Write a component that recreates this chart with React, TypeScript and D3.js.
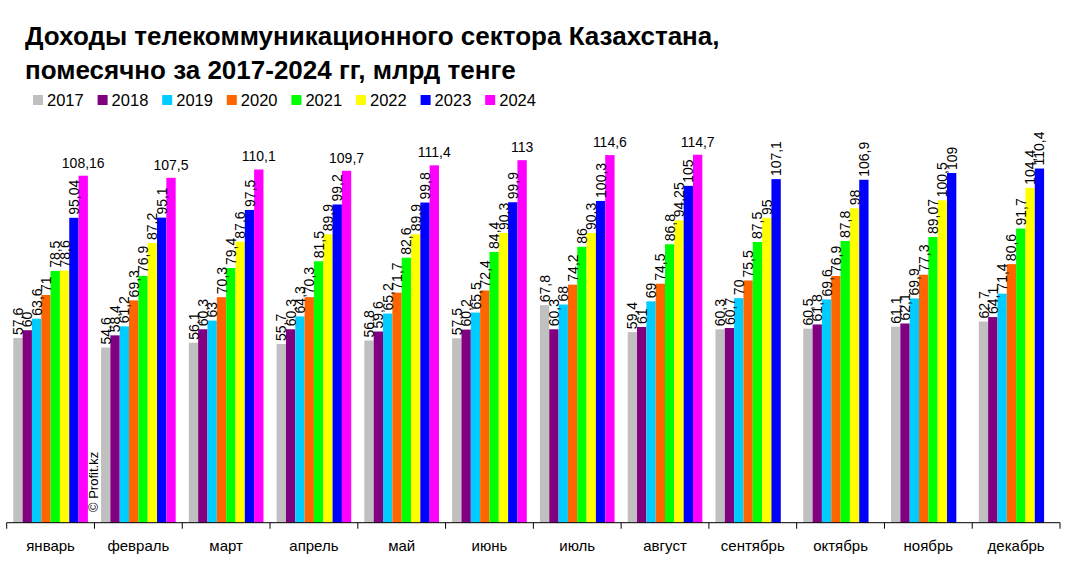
import React from "react";
import * as d3 from "d3";

const months = ["январь", "февраль", "март", "апрель", "май", "июнь", "июль", "август", "сентябрь", "октябрь", "ноябрь", "декабрь"];
const years = ["2017", "2018", "2019", "2020", "2021", "2022", "2023", "2024"];
const colors = ["#C0C0C0", "#800080", "#00CCFF", "#FF6600", "#00FF00", "#FFFF00", "#0000FF", "#FF00FF"];

const s2017 = [57.6, 54.6, 56.1, 55.7, 56.8, 57.5, 67.8, 59.4, 60.3, 60.5, 61.1, 62.7];
const s2018 = [60, 58.4, 60.3, 60.3, 59.6, 60.2, 60.3, 61, 60.7, 61.8, 62.1, 64.1];
const s2019 = [63.6, 61.2, 63, 64.3, 65.2, 65.5, 68, 69, 70, 69.6, 69.9, 71.4];
const s2020 = [71, 69.3, 70.3, 70.3, 71.7, 72.4, 74.2, 74.5, 75.5, 76.9, 77.3, 80.6];
const s2021 = [78.5, 76.9, 79.4, 81.5, 82.6, 84.4, 86, 86.8, 87.5, 87.8, 89.07, 91.7];
const s2022 = [78.6, 87.2, 87.6, 89.9, 89.9, 90.3, 90.3, 94.25, 95, 98, 100.5, 104.4];
const s2023 = [95.04, 95.1, 97.5, 99.2, 99.8, 99.9, 100.3, 105, 107.1, 106.9, 109, 110.4];
const s2024: (number | null)[] = [108.16, 107.5, 110.1, 109.7, 111.4, 113, 114.6, 114.7, null, null, null, null];

const series = [s2017, s2018, s2019, s2020, s2021, s2022, s2023, s2024];

const titleLines = ["Доходы телекоммуникационного сектора Казахстана,", "помесячно за 2017-2024 гг, млрд тенге"];
const watermark = "© Profit.kz";

const W = 1065;
const H = 566;
const FONT = "Arial, 'Liberation Sans', sans-serif";

const fmt = (v: number) => String(v).replace(".", ",");

export default function App() {
  const baseY = 522.7;
  const x = d3.scaleBand<string>().domain(months).range([6.7, 1060]).paddingInner(0).paddingOuter(0);
  const xi = d3.scaleBand<string>().domain(years).range([0, x.bandwidth()]).paddingInner(0).paddingOuter(0.705);
  const y = d3.scaleLinear().domain([0, 120]).range([baseY, baseY - 120 * 3.208]);

  const boundaries = d3.range(months.length + 1).map((i) => 6.7 + i * x.step());

  return (
    <svg width={W} height={H} style={{ position: "absolute", left: 0, top: 0, background: "#fff" }} fontFamily={FONT}>
      <rect x={0} y={0} width={W} height={H} fill="#fff" />
      {titleLines.map((t, i) => (
        <text key={i} x={25} y={45 + i * 34} fontSize={26} fontWeight="bold" fill="#000">
          {t}
        </text>
      ))}
      {years.map((yr, i) => (
        <g key={yr} transform={`translate(${33 + i * 64.6},0)`}>
          <rect x={0} y={95} width={10} height={10} fill={colors[i]} />
          <text x={14} y={106} fontSize={16.5} fill="#000">
            {yr}
          </text>
        </g>
      ))}
      {months.map((m, mi) => (
        <g key={m}>
          {series.map((s, si) => {
            const v = s[mi];
            if (v == null) return null;
            const bx = (x(m) as number) + (xi(years[si]) as number);
            const bw = xi.bandwidth();
            return (
              <rect key={si} x={bx} y={y(v)} width={bw} height={baseY - y(v)} fill={colors[si]} />
            );
          })}
        </g>
      ))}
      {months.map((m, mi) => (
        <g key={m + "-lab"}>
          {series.map((s, si) => {
            const v = s[mi];
            if (v == null) return null;
            const cx = (x(m) as number) + (xi(years[si]) as number) + xi.bandwidth() / 2;
            if (si === 7) {
              return (
                <text key={si} x={cx} y={y(v) - 8} fontSize={14} textAnchor="middle" fill="#000">
                  {fmt(v)}
                </text>
              );
            }
            return (
              <text
                key={si}
                transform={`translate(${cx},${y(v) - 3}) rotate(-90)`}
                dy="0.36em"
                fontSize={14}
                textAnchor="start"
                fill="#000"
              >
                {fmt(v)}
              </text>
            );
          })}
        </g>
      ))}
      <line x1={6.7} x2={1060} y1={baseY} y2={baseY} stroke="#000" strokeWidth={1} />
      {boundaries.map((bx, i) => (
        <line key={i} x1={bx} x2={bx} y1={baseY} y2={baseY + 6} stroke="#000" strokeWidth={1} />
      ))}
      {months.map((m) => (
        <text key={m + "-x"} x={(x(m) as number) + x.bandwidth() / 2} y={551} fontSize={15} textAnchor="middle" fill="#000">
          {m}
        </text>
      ))}
      <text transform={`translate(93.5,512) rotate(-90)`} dy="0.36em" fontSize={13} fill="#000">
        {watermark}
      </text>
    </svg>
  );
}
